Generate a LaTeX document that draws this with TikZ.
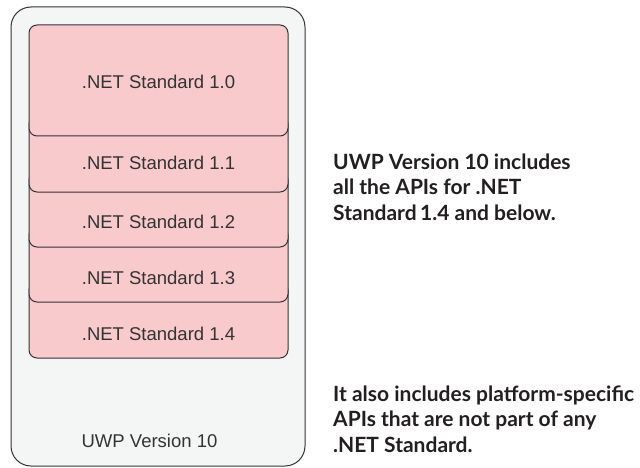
\documentclass[tikz,border=0pt]{standalone}
\usepackage{fontspec}
\setmainfont{Liberation Sans}
\newfontfamily\notefont{Lato}
\definecolor{stdpink}{RGB}{248,202,204}
\definecolor{uwpgray}{RGB}{244,246,246}
\definecolor{edgegray}{RGB}{51,51,51}
\definecolor{notetext}{RGB}{35,31,32}
\tikzset{
  stdbox/.style={draw=edgegray, fill=stdpink, line width=1pt, rounded corners=8pt},
  uwpbox/.style={draw=edgegray, fill=uwpgray, line width=1pt, rounded corners=20pt},
  boxlabel/.style={font=\fontsize{18.5}{22}\selectfont, text=edgegray, inner sep=0pt},
  note/.style={font=\notefont\bfseries\fontsize{21}{25.5}\selectfont, text=notetext,
    align=left, anchor=base west, inner sep=0pt}
}

\begin{document}
\begin{tikzpicture}[x=1pt, y=-1pt]
  \useasboundingbox (0,0) rectangle (640,468);
  % UWP platform
  \draw[uwpbox] (11,7) rectangle (305,466);
  \node[boxlabel] (uwp) at (149.5,441) {UWP Version 10};
  % standards, lowest one first so each hides the top of the one below
  \foreach \v/\ytop/\ybot/\ylbl in {4/302/358/334, 3/247/302/278, 2/192/247/221.5, 1/136/192/162.5} {
    \draw[stdbox] (29,\ytop-20) rectangle (288,\ybot);
    \node[boxlabel] (std\v) at (158.5,\ylbl) {.NET Standard 1.\v};
  }
  \draw[stdbox] (29,25) rectangle (288,136);
  \node[boxlabel] (std0) at (158.5,82) {.NET Standard 1.0};
  % notes (base = last line)
  \node[note] (inclnote) at (333,220) {UWP Version 10 includes\\all the APIs for .NET\\Standard\,1.4 and below.};
  \node[note] (extranote) at (333,452) {It also includes platform-specific\\APIs that are not part of any\\.NET Standard.};
\end{tikzpicture}
\end{document}
